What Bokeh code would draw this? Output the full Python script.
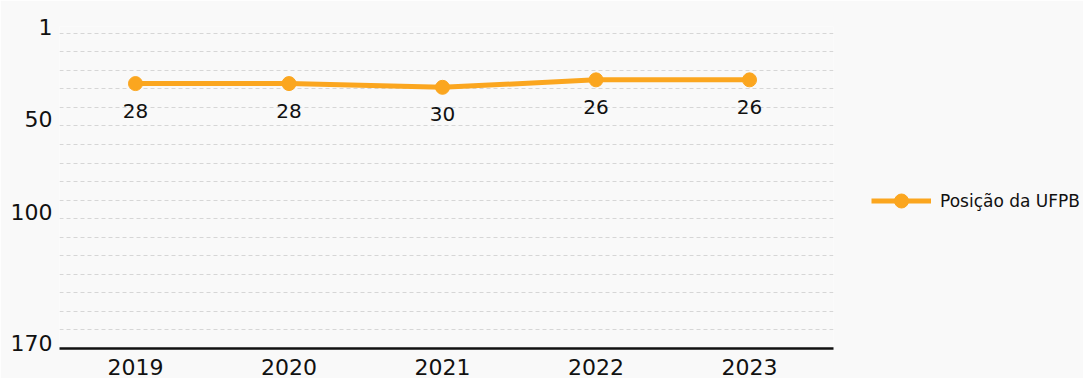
from bokeh.plotting import figure
from bokeh.models import (Range1d, FixedTicker, Legend, LegendItem, ColumnDataSource, LinearAxis)
from bokeh.core.properties import value
from bokeh.embed import file_html
from bokeh.resources import INLINE

# ---- data ----
years = ["2019", "2020", "2021", "2022", "2023"]
positions = [28, 28, 30, 26, 26]
y_tick_values = [1, 50, 100, 170]
series_name = "Posição da UFPB"

FONT = "DejaVu Sans"
ORANGE = "#FBA61F"
BG = "#f9f9f9"
TXT = "#111111"

FRAME_H = 322
Y_BOTTOM, Y_TOP = 170, -2.6
LABEL_LIFT_PX = 6  # y tick labels sit just above their grid line

x_idx = list(range(len(years)))
src = ColumnDataSource(dict(x=x_idx, y=positions, lbl=[str(v) for v in positions]))

p = figure(width=1083, height=378, frame_width=774, frame_height=FRAME_H,
           output_backend="svg", toolbar_location=None,
           x_range=Range1d(-0.495, 4.547), y_range=Range1d(Y_BOTTOM, Y_TOP),
           min_border_left=59, min_border_right=250, min_border_top=26, min_border_bottom=30)

p.background_fill_color = BG
p.border_fill_color = BG
p.outline_line_color = None

# grid
p.xgrid.grid_line_color = None
lo, hi = min(y_tick_values), max(y_tick_values)
p.ygrid.ticker = FixedTicker(ticks=[lo + k * (hi - lo) / 17 for k in range(18)])
p.ygrid.grid_line_color = "#d6d6d6"
p.ygrid.grid_line_dash = "4 3"
p.ygrid.grid_line_width = 1

# y axis: a shifted range so labels sit slightly above their lines
p.yaxis.visible = False
d = LABEL_LIFT_PX * (Y_BOTTOM - Y_TOP) / FRAME_H
p.extra_y_ranges = {"lbl": Range1d(Y_BOTTOM + d, Y_TOP + d)}
yax = LinearAxis(y_range_name="lbl", ticker=FixedTicker(ticks=y_tick_values))
yax.axis_line_color = None
yax.major_tick_line_color = None
yax.minor_tick_line_color = None
yax.major_label_text_font = FONT
yax.major_label_text_font_size = "22px"
yax.major_label_text_color = TXT
yax.major_label_standoff = 1
p.add_layout(yax, "left")

# x axis
p.xaxis.ticker = FixedTicker(ticks=x_idx)
p.xaxis.major_label_overrides = {i: y for i, y in zip(x_idx, years)}
p.xaxis.axis_line_color = TXT
p.xaxis.axis_line_width = 2.5
p.xaxis.major_tick_line_color = None
p.xaxis.minor_tick_line_color = None
p.xaxis.major_label_text_font = FONT
p.xaxis.major_label_text_font_size = "22px"
p.xaxis.major_label_text_color = TXT
p.xaxis.major_label_standoff = 4

line_r = p.line("x", "y", source=src, line_color=ORANGE, line_width=5)
pts_r = p.scatter("x", "y", source=src, size=14, fill_color=ORANGE, line_color=ORANGE)
p.text("x", "y", text="lbl", source=src, y_offset=27, text_align="center",
       text_baseline="middle", text_font=value(FONT), text_font_size="20px",
       text_color=TXT)

legend = Legend(items=[LegendItem(label=series_name, renderers=[line_r, pts_r])],
                location=(38, 130), glyph_width=60, glyph_height=35,
                label_standoff=9, padding=0, margin=0, border_line_color=None,
                background_fill_alpha=0, label_text_font=FONT,
                label_text_font_size="17px", label_text_color=TXT)
p.add_layout(legend, "right")

open("out.html", "w").write(file_html(p, INLINE))
